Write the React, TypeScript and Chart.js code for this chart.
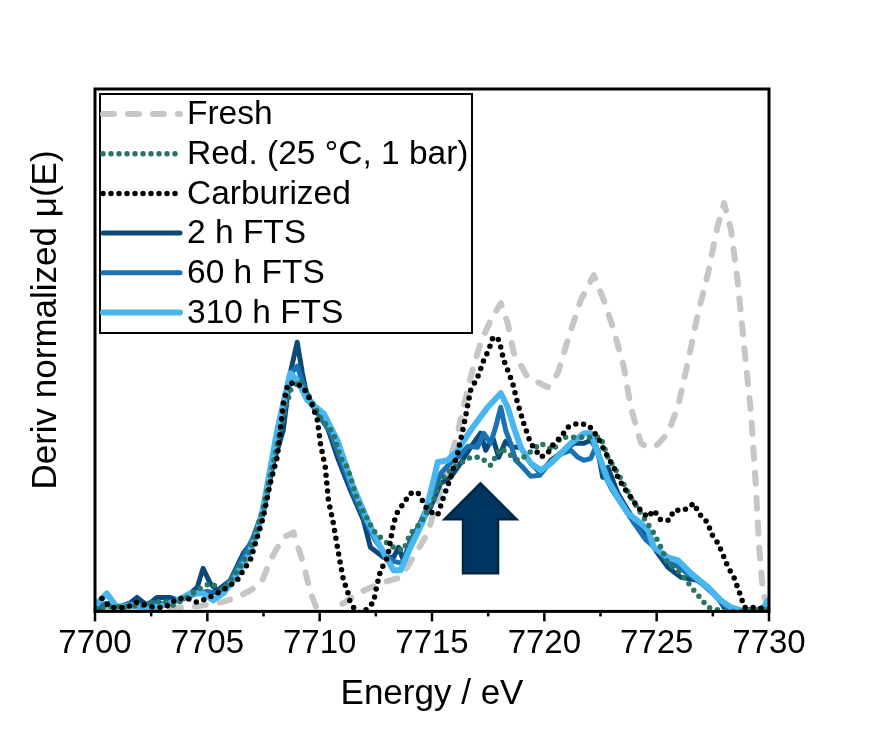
import React, { useEffect, useRef } from "react";
import { Chart, registerables } from "chart.js";

Chart.register(...registerables);

const FONT = "'Liberation Sans', Arial, Helvetica, sans-serif";

// ---- Data (energy in eV, derivative in arbitrary units) ----
const freshE = [7700.0, 7701.0, 7702.0, 7703.0, 7703.9, 7704.8, 7705.6, 7706.33, 7707.0, 7707.45, 7707.8, 7708.38, 7708.83, 7709.27, 7709.59, 7709.9, 7710.3, 7710.79, 7711.68, 7712.7, 7713.6, 7714.36, 7714.8, 7715.07, 7715.83, 7716.14, 7716.4, 7716.8, 7717.16, 7717.61, 7718.06, 7718.37, 7718.64, 7719.26, 7720.15, 7720.6, 7721.04, 7721.62, 7722.2, 7722.65, 7723.09, 7723.54, 7723.85, 7724.3, 7724.6, 7725.0, 7725.5, 7725.95, 7726.4, 7726.84, 7727.29, 7727.7, 7728.0, 7728.31, 7728.6, 7728.9, 7729.2, 7729.4, 7729.56, 7729.74, 7729.96];
const freshMu = [2, 2, 2, 3, 4, 6, 9, 14, 22, 31, 51, 74, 79, 48, 19, 1, -8, 4, 18, 28, 34, 61, 78, 98, 154, 178, 204, 241, 268, 291, 308, 288, 258, 234, 224, 238, 271, 311, 336, 311, 281, 244, 204, 168, 164, 166, 178, 205, 250, 298, 338, 384, 408, 381, 331, 264, 198, 131, 64, 18, 4];

const redE = [7700.0, 7700.5, 7701.0, 7701.6, 7702.14, 7702.6, 7703.03, 7703.48, 7704.1, 7704.68, 7705.13, 7705.71, 7706.15, 7706.91, 7707.45, 7707.8, 7708.25, 7708.7, 7709.14, 7709.45, 7710.03, 7710.61, 7710.92, 7711.23, 7711.68, 7712.39, 7712.84, 7713.29, 7713.73, 7714.04, 7714.49, 7715.07, 7715.38, 7715.96, 7716.72, 7717.16, 7717.61, 7718.06, 7718.5, 7718.81, 7719.08, 7719.84, 7720.42, 7720.73, 7721.31, 7721.93, 7722.51, 7722.83, 7723.27, 7723.85, 7724.3, 7724.88, 7725.19, 7725.5, 7726.08, 7726.66, 7727.29, 7728.0, 7729.0, 7730.0];
const redMu = [3, 4, 5, 5, 6, 8, 11, 6, 14, 23, 28, 21, 34, 61, 100, 135, 181, 221, 231, 218, 194, 178, 154, 144, 111, 81, 71, 64, 61, 78, 88, 111, 131, 144, 154, 154, 146, 163, 156, 151, 154, 168, 161, 174, 174, 174, 174, 154, 138, 114, 98, 78, 64, 48, 38, 21, 4, 0, 0, 2];

const carbE = [7700.31, 7700.67, 7701.43, 7701.87, 7702.59, 7703.12, 7703.66, 7704.1, 7704.55, 7704.99, 7705.44, 7705.89, 7706.33, 7706.6, 7706.91, 7707.22, 7707.49, 7707.8, 7708.11, 7708.25, 7708.38, 7708.6, 7708.92, 7709.27, 7709.59, 7709.9, 7710.03, 7710.25, 7710.39, 7710.61, 7710.79, 7710.92, 7711.06, 7711.23, 7711.37, 7711.68, 7711.95, 7712.39, 7712.57, 7712.71, 7713.02, 7713.29, 7713.46, 7713.73, 7714.04, 7714.36, 7714.62, 7714.8, 7715.25, 7715.51, 7715.83, 7716.14, 7716.4, 7716.72, 7717.03, 7717.3, 7717.52, 7717.7, 7717.92, 7718.06, 7718.19, 7718.37, 7718.59, 7718.81, 7718.95, 7719.08, 7719.39, 7719.84, 7720.15, 7720.42, 7720.73, 7721.04, 7721.49, 7721.98, 7722.38, 7722.6, 7722.83, 7723.09, 7723.27, 7723.54, 7723.85, 7724.16, 7724.6, 7724.88, 7725.19, 7725.55, 7725.77, 7726.21, 7726.66, 7726.88, 7727.29, 7727.42, 7727.73, 7728.0, 7728.18, 7728.44, 7728.76, 7728.9, 7729.34, 7730.0];
const carbMu = [13, 4, 4, 9, 4, 4, 13, 13, 9, 13, 18, 24, 31, 41, 51, 74, 94, 128, 154, 181, 208, 228, 228, 224, 211, 191, 168, 144, 111, 88, 64, 48, 31, 21, 8, -1, -1, 9, 28, 41, 54, 88, 99, 108, 118, 119, 109, 101, 96, 114, 134, 158, 184, 221, 234, 251, 261, 273, 274, 264, 251, 241, 228, 208, 198, 188, 168, 154, 158, 168, 174, 184, 188, 186, 174, 164, 154, 144, 134, 124, 114, 104, 94, 101, 91, 91, 101, 101, 108, 98, 88, 78, 68, 54, 44, 34, 14, 4, 4, 2];

const fts2E = [7700.09, 7700.67, 7701.25, 7701.87, 7702.32, 7702.76, 7703.34, 7703.7, 7704.24, 7704.55, 7704.81, 7705.13, 7705.44, 7706.02, 7706.6, 7707.04, 7707.49, 7707.94, 7708.38, 7708.69, 7709.0, 7709.23, 7709.45, 7709.9, 7710.34, 7710.79, 7711.37, 7711.95, 7712.26, 7712.84, 7713.29, 7713.51, 7713.73, 7714.04, 7714.49, 7714.94, 7715.38, 7715.83, 7716.27, 7716.72, 7717.16, 7717.39, 7717.7, 7717.97, 7718.28, 7718.59, 7718.95, 7719.39, 7719.84, 7720.29, 7720.73, 7721.31, 7721.76, 7722.07, 7722.38, 7722.6, 7722.83, 7723.27, 7723.72, 7724.3, 7724.61, 7725.05, 7725.5, 7726.08, 7726.84, 7727.29, 7727.73, 7728.0, 7728.53, 7729.2, 7729.65, 7730.0];
const fts2Mu = [3, 8, 3, 14, 6, 14, 14, 11, 18, 24, 43, 28, 21, 31, 58, 71, 98, 148, 181, 238, 269, 238, 214, 198, 184, 154, 121, 91, 64, 54, 54, 64, 51, 71, 88, 104, 128, 134, 148, 164, 178, 161, 174, 154, 170, 164, 164, 148, 138, 151, 158, 168, 168, 171, 161, 134, 144, 118, 101, 81, 74, 58, 44, 34, 31, 24, 14, 4, 0, 2, 0, 4];

const fts60E = [7700.0, 7700.5, 7701.0, 7701.5, 7702.0, 7702.5, 7703.0, 7703.5, 7704.0, 7704.5, 7705.0, 7705.5, 7706.0, 7706.5, 7707.0, 7707.5, 7708.0, 7708.4, 7708.8, 7709.0, 7709.3, 7709.6, 7710.0, 7710.5, 7711.0, 7711.5, 7712.0, 7712.5, 7713.0, 7713.3, 7713.7, 7714.0, 7714.5, 7715.0, 7715.4, 7715.8, 7716.2, 7716.6, 7717.03, 7717.3, 7717.61, 7717.83, 7718.06, 7718.28, 7718.5, 7718.72, 7719.0, 7719.4, 7719.8, 7720.3, 7720.8, 7721.18, 7721.49, 7721.76, 7722.07, 7722.3, 7722.6, 7723.0, 7723.5, 7724.0, 7724.5, 7725.0, 7725.5, 7726.0, 7726.5, 7727.0, 7727.5, 7728.0, 7728.5, 7729.0, 7729.5, 7730.0];
const fts60Mu = [4, 8, 4, 8, 5, 9, 8, 10, 13, 18, 20, 18, 30, 50, 72, 102, 160, 200, 240, 245, 225, 210, 195, 178, 148, 118, 92, 70, 55, 50, 48, 66, 90, 115, 138, 148, 155, 165, 164, 178, 168, 184, 204, 181, 168, 151, 145, 135, 136, 150, 158, 161, 154, 151, 153, 165, 140, 122, 105, 88, 72, 62, 50, 44, 36, 28, 18, 6, 0, 0, 2, 6];

const fts310E = [7700.09, 7700.53, 7700.98, 7701.56, 7702.32, 7703.03, 7703.66, 7704.24, 7704.81, 7705.26, 7705.71, 7706.15, 7706.78, 7707.22, 7707.49, 7708.11, 7708.69, 7709.0, 7709.45, 7710.17, 7710.79, 7711.5, 7712.13, 7712.71, 7713.29, 7713.6, 7714.04, 7714.62, 7715.07, 7715.25, 7715.69, 7716.14, 7716.72, 7717.48, 7718.06, 7718.37, 7718.64, 7718.95, 7719.39, 7719.84, 7720.29, 7720.73, 7721.18, 7721.76, 7722.07, 7722.29, 7722.51, 7722.83, 7723.27, 7723.72, 7724.3, 7724.61, 7724.88, 7725.5, 7725.95, 7726.53, 7727.29, 7727.86, 7728.31, 7728.89, 7729.65, 7729.96];
const fts310Mu = [8, 18, 4, 6, 3, 6, 11, 18, 18, 11, 18, 31, 54, 78, 104, 181, 238, 231, 211, 198, 171, 124, 91, 64, 41, 41, 64, 91, 131, 149, 151, 161, 181, 204, 218, 204, 184, 164, 148, 141, 148, 158, 168, 178, 178, 164, 151, 131, 114, 98, 88, 81, 64, 54, 51, 38, 24, 11, 4, 0, 0, 11];

const seriesLabels = ["Fresh", "Red. (25 °C, 1 bar)", "Carburized", "2 h FTS", "60 h FTS", "310 h FTS"];
const xTitle = "Energy / eV";
const yTitle = "Deriv normalized μ(E)";
const xMin = 7700;
const xMax = 7730;
const xMajorStep = 5;
const xMinorStep = 2.5;
const yMin = 0;
const yMax = 522;
// Arrow annotation (data units): tip, head base, shaft bottom
const arrowTipE = 7717.16;
const arrowTipY = 128;
const arrowHeadY = 92;
const arrowHeadHalf = 1.6;
const arrowShaftHalf = 0.78;
const arrowBaseY = 38;

const COLORS = {
  fresh: "#c6c6c6",
  red: "#2a7565",
  carb: "#000000",
  fts2: "#0b4a78",
  fts60: "#1a72b4",
  fts310: "#48b6ef",
};

const pts = (xs: number[], ys: number[]) => xs.map((x, i) => ({ x, y: ys[i] }));

const styles = [
  { color: COLORS.fresh, width: 6, dash: [11, 14], cap: "round" },
  { color: COLORS.red, width: 5.5, dash: [0, 8], cap: "round" },
  { color: COLORS.carb, width: 5.5, dash: [0, 8], cap: "round" },
  { color: COLORS.fts2, width: 5, dash: [], cap: "round" },
  { color: COLORS.fts60, width: 5, dash: [], cap: "round" },
  { color: COLORS.fts310, width: 6, dash: [], cap: "round" },
];

const overlayPlugin = {
  id: "overlay",
  afterDatasetsDraw(chart: any) {
    const { ctx, chartArea, scales } = chart;
    const xs = scales.x;
    const ys = scales.y;
    ctx.save();

    // Arrow
    const p = (e: number, v: number) => [xs.getPixelForValue(e), ys.getPixelForValue(v)];
    const poly = [
      p(arrowTipE, arrowTipY),
      p(arrowTipE + arrowHeadHalf, arrowHeadY),
      p(arrowTipE + arrowShaftHalf, arrowHeadY),
      p(arrowTipE + arrowShaftHalf, arrowBaseY),
      p(arrowTipE - arrowShaftHalf, arrowBaseY),
      p(arrowTipE - arrowShaftHalf, arrowHeadY),
      p(arrowTipE - arrowHeadHalf, arrowHeadY),
    ];
    ctx.beginPath();
    poly.forEach(([x, y], i) => (i === 0 ? ctx.moveTo(x, y) : ctx.lineTo(x, y)));
    ctx.closePath();
    ctx.fillStyle = "#00355f";
    ctx.fill();
    ctx.lineWidth = 2.5;
    ctx.strokeStyle = "#012642";
    ctx.lineJoin = "miter";
    ctx.stroke();

    // Frame
    ctx.lineWidth = 3;
    ctx.strokeStyle = "#000";
    ctx.setLineDash([]);
    ctx.strokeRect(chartArea.left, chartArea.top, chartArea.right - chartArea.left, chartArea.bottom - chartArea.top);

    // X ticks (outward)
    ctx.lineWidth = 2.5;
    for (let v = xMin; v <= xMax + 1e-6; v += xMinorStep) {
      const x = xs.getPixelForValue(v);
      const major = Math.abs(v / xMajorStep - Math.round(v / xMajorStep)) < 1e-6;
      ctx.beginPath();
      ctx.moveTo(x, chartArea.bottom);
      ctx.lineTo(x, chartArea.bottom + (major ? 10 : 5));
      ctx.stroke();
    }

    // Y axis title (rotated)
    ctx.save();
    ctx.translate(46, 320);
    ctx.rotate(-Math.PI / 2);
    ctx.font = `35px ${FONT}`;
    ctx.fillStyle = "#000";
    ctx.textAlign = "center";
    ctx.textBaseline = "middle";
    ctx.fillText(yTitle, 0, 0);
    ctx.restore();

    // Legend
    const lx = chartArea.left + 5;
    const ly = chartArea.top + 5;
    const lw = 372;
    const lh = 239;
    ctx.fillStyle = "#fff";
    ctx.fillRect(lx, ly, lw, lh);
    ctx.lineWidth = 2;
    ctx.strokeStyle = "#000";
    ctx.strokeRect(lx, ly, lw, lh);
    const rowH = 39.7;
    ctx.font = `33.5px ${FONT}`;
    ctx.textBaseline = "middle";
    ctx.textAlign = "left";
    seriesLabels.forEach((label, i) => {
      const cy = ly + 20 + i * rowH;
      const st = styles[i];
      ctx.save();
      ctx.strokeStyle = st.color;
      ctx.lineWidth = st.width;
      ctx.lineCap = st.cap as CanvasLineCap;
      ctx.setLineDash(st.dash);
      ctx.beginPath();
      ctx.moveTo(lx + 3, cy);
      ctx.lineTo(lx + 80, cy);
      ctx.stroke();
      ctx.restore();
      ctx.fillStyle = "#000";
      ctx.fillText(label, lx + 87, cy + 1);
    });

    ctx.restore();
  },
};

export default function App() {
  const ref = useRef<HTMLCanvasElement | null>(null);
  useEffect(() => {
    if (!ref.current) return;
    const series = [
      pts(freshE, freshMu),
      pts(redE, redMu),
      pts(carbE, carbMu),
      pts(fts2E, fts2Mu),
      pts(fts60E, fts60Mu),
      pts(fts310E, fts310Mu),
    ];
    const drawOrder = [6, 1, 0, 4, 3, 2];
    const chart = new Chart(ref.current, {
      type: "line",
      data: {
        datasets: series.map((d, i) => ({
          label: seriesLabels[i],
          data: d,
          borderColor: styles[i].color,
          backgroundColor: styles[i].color,
          borderWidth: styles[i].width,
          borderDash: styles[i].dash,
          borderCapStyle: styles[i].cap as any,
          borderJoinStyle: "round" as any,
          pointRadius: 0,
          tension: 0,
          fill: false,
          order: drawOrder[i],
        })),
      },
      options: {
        responsive: false,
        animation: false,
        events: [],
        layout: { padding: { left: 95, right: 122, top: 89, bottom: 22 } },
        plugins: { legend: { display: false }, tooltip: { enabled: false } },
        scales: {
          x: {
            type: "linear",
            min: xMin,
            max: xMax,
            grid: { display: false, drawTicks: false, tickLength: 0 },
            border: { display: false },
            ticks: {
              stepSize: xMajorStep,
              autoSkip: false,
              maxRotation: 0,
              padding: 13,
              color: "#000",
              font: { family: FONT, size: 33 },
              callback: (v: any) => String(v),
            },
            title: {
              display: true,
              text: xTitle,
              color: "#000",
              font: { family: FONT, size: 35, lineHeight: 1.0 },
              padding: { top: 0, bottom: 0 },
            },
          },
          y: {
            type: "linear",
            display: false,
            min: yMin,
            max: yMax,
          },
        },
      },
      plugins: [overlayPlugin],
    });
    return () => chart.destroy();
  }, []);
  return (
    <div style={{ position: "absolute", left: 0, top: 0, width: 891, height: 734, background: "#fff" }}>
      <canvas ref={ref} width={891} height={734} style={{ display: "block" }} />
    </div>
  );
}
